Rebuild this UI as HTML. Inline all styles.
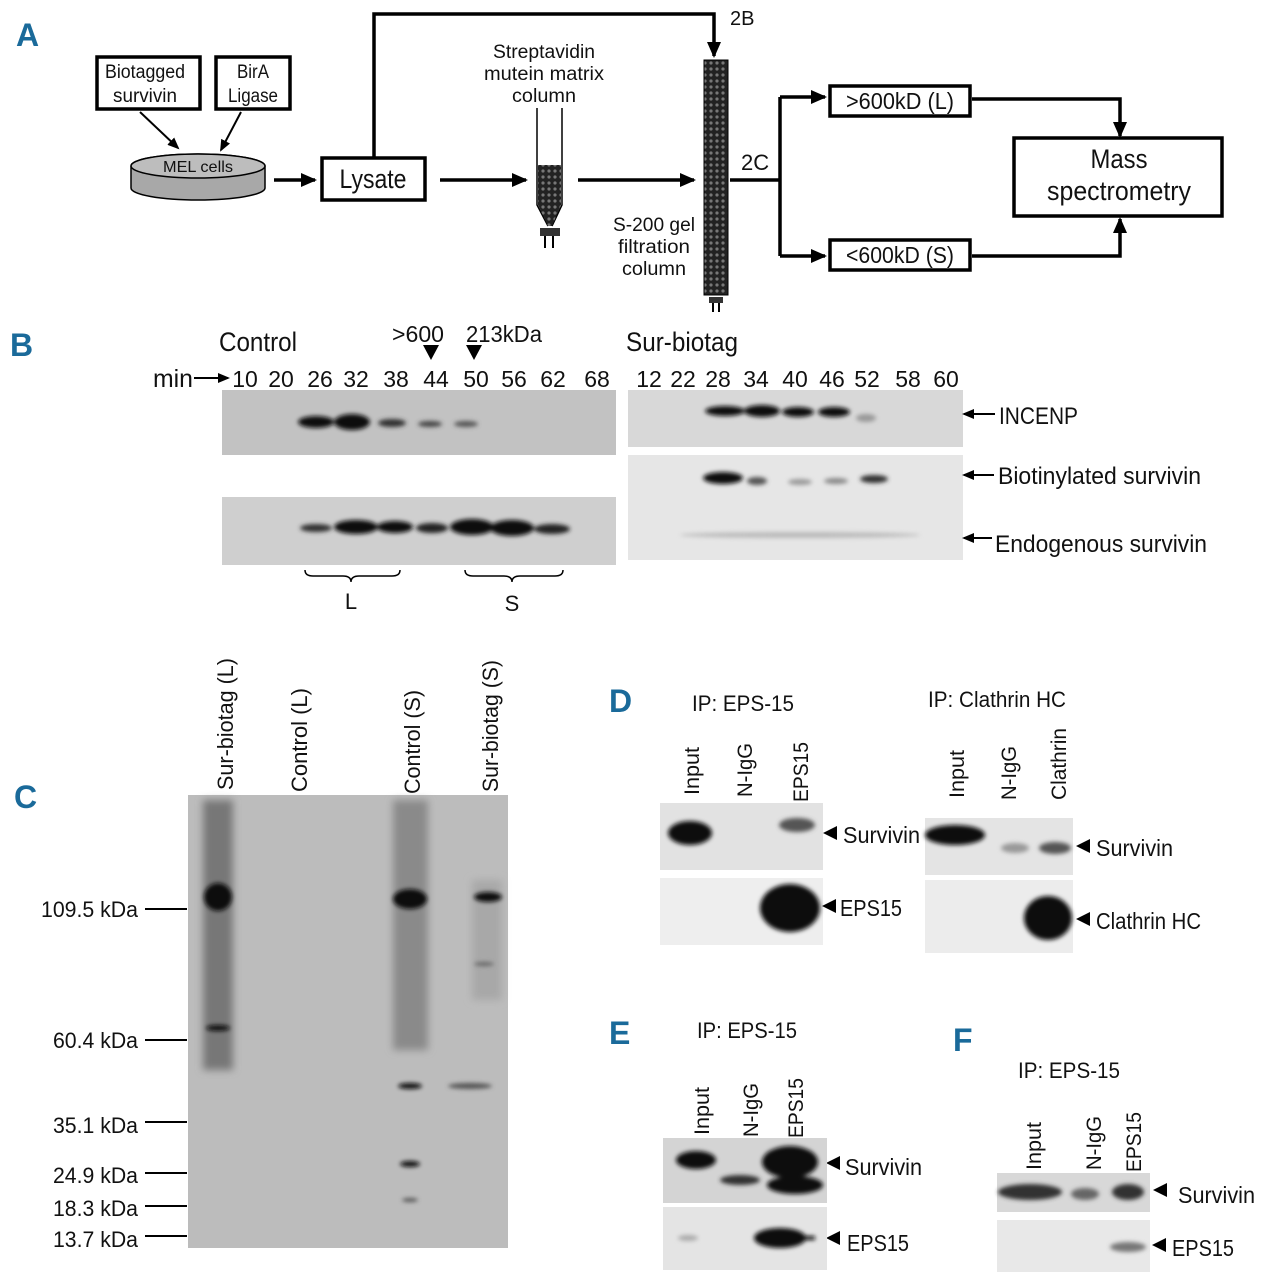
<!DOCTYPE html>
<html><head><meta charset="utf-8"><style>
html,body{margin:0;padding:0;background:#fff}
svg text{font-family:"Liberation Sans Narrow","Liberation Sans",sans-serif;fill:#111}
.P{font-family:"Liberation Sans",sans-serif;font-weight:bold;fill:#1a6a9a;font-size:32px}
</style></head><body>
<svg width="1262" height="1280" viewBox="0 0 1262 1280" xmlns="http://www.w3.org/2000/svg">
<defs>
<marker id="ah" markerWidth="16" markerHeight="14" refX="14" refY="7" orient="auto" markerUnits="userSpaceOnUse"><path d="M0,0 L16,7 L0,14 Z" fill="#000"/></marker>
<marker id="as" markerWidth="12" markerHeight="10" refX="10" refY="5" orient="auto" markerUnits="userSpaceOnUse"><path d="M0,0 L12,5 L0,10 Z" fill="#000"/></marker>
<filter id="b2"><feGaussianBlur stdDeviation="2"/></filter>
<filter id="b4"><feGaussianBlur stdDeviation="4"/></filter>
<pattern id="beads" width="6" height="6" patternUnits="userSpaceOnUse"><rect width="6" height="6" fill="#222"/><circle cx="3" cy="3" r="1.6" fill="#777"/></pattern>
</defs>

<!-- Panel A -->
<text class="P" x="16" y="46">A</text>
<g fill="none" stroke="#000" stroke-width="3.5">
<rect x="97" y="57" width="103" height="52"/>
<rect x="216" y="57" width="74" height="52"/>
<rect x="322" y="158" width="103" height="42"/>
<rect x="830" y="86" width="140" height="30"/>
<rect x="830" y="240" width="140" height="30"/>
<rect x="1014" y="138" width="208" height="78"/>
</g>
<g font-size="19" text-anchor="middle" lengthAdjust="spacingAndGlyphs">
<text x="145" y="78" textLength="80" lengthAdjust="spacingAndGlyphs">Biotagged</text><text x="145" y="102" textLength="64" lengthAdjust="spacingAndGlyphs">survivin</text>
<text x="253" y="78" textLength="32" lengthAdjust="spacingAndGlyphs">BirA</text><text x="253" y="102" textLength="50" lengthAdjust="spacingAndGlyphs">Ligase</text>
<text x="544" y="58" textLength="102" lengthAdjust="spacingAndGlyphs">Streptavidin</text><text x="544" y="80" textLength="120" lengthAdjust="spacingAndGlyphs">mutein matrix</text><text x="544" y="102" textLength="64" lengthAdjust="spacingAndGlyphs">column</text>
<text x="654" y="231" textLength="82" lengthAdjust="spacingAndGlyphs">S-200 gel</text><text x="654" y="253" textLength="72" lengthAdjust="spacingAndGlyphs">filtration</text><text x="654" y="275" textLength="64" lengthAdjust="spacingAndGlyphs">column</text>
</g>
<text x="373" y="188" font-size="27" text-anchor="middle" textLength="67" lengthAdjust="spacingAndGlyphs">Lysate</text>
<text x="900" y="109" font-size="23" text-anchor="middle" textLength="108" lengthAdjust="spacingAndGlyphs">&gt;600kD (L)</text>
<text x="900" y="263" font-size="23" text-anchor="middle" textLength="108" lengthAdjust="spacingAndGlyphs">&lt;600kD (S)</text>
<text x="1119" y="168" font-size="27" text-anchor="middle" textLength="57" lengthAdjust="spacingAndGlyphs">Mass</text>
<text x="1119" y="200" font-size="27" text-anchor="middle" textLength="144" lengthAdjust="spacingAndGlyphs">spectrometry</text>
<text x="730" y="25" font-size="20">2B</text>
<text x="741" y="170" font-size="22">2C</text>
<g stroke="#000" stroke-width="1.5">
<path d="M131,178 L131,166 A67,12 0 0 1 265,166 L265,188 A67,12 0 0 1 131,188 Z" fill="#a8a8a8"/>
<ellipse cx="198" cy="166" rx="67" ry="12" fill="#bdbdbd"/>
</g>
<text x="198" y="172" font-size="16" text-anchor="middle" textLength="70" lengthAdjust="spacingAndGlyphs">MEL cells</text>
<g fill="none" stroke="#000" stroke-width="3.5">
<line x1="140" y1="112" x2="178" y2="148" stroke-width="2" marker-end="url(#as)"/>
<line x1="241" y1="112" x2="221" y2="150" stroke-width="2" marker-end="url(#as)"/>
<line x1="274" y1="180" x2="315" y2="180" marker-end="url(#ah)"/>
<path d="M374,158 V14 H714 V56" marker-end="url(#ah)"/>
<line x1="440" y1="180" x2="526" y2="180" marker-end="url(#ah)"/>
<line x1="578" y1="180" x2="694" y2="180" marker-end="url(#ah)"/>
<line x1="780" y1="97" x2="825" y2="97" marker-end="url(#ah)"/>
<line x1="780" y1="256" x2="825" y2="256" marker-end="url(#ah)"/>
<path d="M972,99 H1120 V136" marker-end="url(#ah)"/>
<path d="M972,256 H1120 V219" marker-end="url(#ah)"/>
</g>
<path d="M730,180 H780 M780,97 V256" stroke="#000" stroke-width="3.5" fill="none"/>
<!-- small column -->
<path d="M537,108 V205 L548,226 M562,108 V205 L552,226" stroke="#000" stroke-width="1.5" fill="none"/>
<path d="M538,165 H561 V205 L552,226 H548 L538,205 Z" fill="url(#beads)"/>
<rect x="540" y="228" width="20" height="8" fill="#333"/><line x1="545" y1="236" x2="545" y2="248" stroke="#000" stroke-width="2"/><line x1="553" y1="236" x2="553" y2="248" stroke="#000" stroke-width="2"/>
<!-- big column -->
<rect x="704" y="60" width="24" height="235" fill="url(#beads)" stroke="#000"/>
<rect x="709" y="297" width="14" height="6" fill="#333"/><line x1="713" y1="303" x2="713" y2="312" stroke="#000" stroke-width="2"/><line x1="719" y1="303" x2="719" y2="312" stroke="#000" stroke-width="2"/>

<!-- Panel B -->
<text class="P" x="10" y="356">B</text>
<text x="219" y="351" font-size="27" textLength="78" lengthAdjust="spacingAndGlyphs">Control</text>
<text x="392" y="342" font-size="23" textLength="52" lengthAdjust="spacingAndGlyphs">&gt;600</text>
<text x="466" y="342" font-size="23" textLength="76" lengthAdjust="spacingAndGlyphs">213kDa</text>
<path d="M423,345 h16 l-8,15z M466,345 h16 l-8,15z" fill="#000"/>
<text x="626" y="351" font-size="27" textLength="112" lengthAdjust="spacingAndGlyphs">Sur-biotag</text>
<text x="153" y="387" font-size="25" textLength="40" lengthAdjust="spacingAndGlyphs">min</text>
<line x1="194" y1="378" x2="228" y2="378" stroke="#000" stroke-width="2" marker-end="url(#as)"/>
<g font-size="23" text-anchor="middle">
<text x="245" y="387">10</text><text x="281" y="387">20</text><text x="320" y="387">26</text><text x="356" y="387">32</text><text x="396" y="387">38</text><text x="436" y="387">44</text><text x="476" y="387">50</text><text x="514" y="387">56</text><text x="553" y="387">62</text><text x="597" y="387">68</text>
<text x="649" y="387">12</text><text x="683" y="387">22</text><text x="718" y="387">28</text><text x="756" y="387">34</text><text x="795" y="387">40</text><text x="832" y="387">46</text><text x="867" y="387">52</text><text x="908" y="387">58</text><text x="946" y="387">60</text>
</g>
<rect x="222" y="390" width="394" height="65" fill="#c2c2c2"/>
<rect x="222" y="497" width="394" height="68" fill="#cfcfcf"/>
<rect x="628" y="390" width="335" height="57" fill="#d8d8d8"/>
<rect x="628" y="455" width="335" height="105" fill="#e6e6e6"/>
<g fill="#111" filter="url(#b2)">
<ellipse cx="316" cy="422" rx="18" ry="6"/><ellipse cx="352" cy="422" rx="18" ry="8"/><ellipse cx="392" cy="423" rx="14" ry="4" fill="#333"/><ellipse cx="430" cy="424" rx="12" ry="3" fill="#444"/><ellipse cx="466" cy="424" rx="12" ry="3" fill="#555"/>
<ellipse cx="316" cy="528" rx="16" ry="4" fill="#333"/><ellipse cx="356" cy="527" rx="22" ry="7"/><ellipse cx="395" cy="527" rx="18" ry="6"/><ellipse cx="432" cy="528" rx="16" ry="5" fill="#222"/><ellipse cx="472" cy="527" rx="22" ry="8"/><ellipse cx="512" cy="528" rx="22" ry="8"/><ellipse cx="552" cy="529" rx="18" ry="5" fill="#222"/>
<ellipse cx="725" cy="411" rx="20" ry="5"/><ellipse cx="762" cy="411" rx="18" ry="6"/><ellipse cx="798" cy="412" rx="16" ry="5"/><ellipse cx="834" cy="412" rx="16" ry="5"/><ellipse cx="866" cy="418" rx="10" ry="4" fill="#999"/>
<ellipse cx="723" cy="478" rx="20" ry="6"/><ellipse cx="757" cy="481" rx="10" ry="4" fill="#555"/><ellipse cx="800" cy="482" rx="12" ry="3" fill="#999"/><ellipse cx="836" cy="481" rx="12" ry="3" fill="#888"/><ellipse cx="874" cy="479" rx="14" ry="4" fill="#333"/>
<ellipse cx="800" cy="535" rx="120" ry="3" fill="#bbb"/>
</g>
<g font-size="24">
<text x="999" y="424" textLength="79" lengthAdjust="spacingAndGlyphs">INCENP</text><text x="998" y="484" textLength="203" lengthAdjust="spacingAndGlyphs">Biotinylated survivin</text><text x="995" y="552" textLength="212" lengthAdjust="spacingAndGlyphs">Endogenous survivin</text>
</g>
<g stroke="#000" stroke-width="2">
<line x1="995" y1="414" x2="964" y2="414" marker-end="url(#as)"/><line x1="994" y1="475" x2="964" y2="475" marker-end="url(#as)"/><line x1="992" y1="538" x2="964" y2="538" marker-end="url(#as)"/>
</g>
<path d="M305,570 q0,6 8,6 h30 q8,0 8,6 q0,-6 8,-6 h33 q8,0 8,-6 M465,570 q0,6 8,6 h31 q8,0 8,6 q0,-6 8,-6 h35 q8,0 8,-6" fill="none" stroke="#000" stroke-width="1.5"/>
<text x="351" y="609" font-size="22" text-anchor="middle">L</text>
<text x="512" y="611" font-size="22" text-anchor="middle">S</text>

<!-- Panel C -->
<text class="P" x="14" y="808">C</text>
<g font-size="22">
<text transform="translate(233,790) rotate(-90)" textLength="132" lengthAdjust="spacingAndGlyphs">Sur-biotag (L)</text>
<text transform="translate(307,792) rotate(-90)" textLength="104" lengthAdjust="spacingAndGlyphs">Control (L)</text>
<text transform="translate(420,794) rotate(-90)" textLength="104" lengthAdjust="spacingAndGlyphs">Control (S)</text>
<text transform="translate(498,792) rotate(-90)" textLength="132" lengthAdjust="spacingAndGlyphs">Sur-biotag (S)</text>
</g>
<rect x="188" y="795" width="320" height="453" fill="#bcbcbc"/>
<g filter="url(#b4)">
<rect x="203" y="800" width="30" height="270" fill="#777"/>
<rect x="393" y="800" width="35" height="250" fill="#8a8a8a"/>
<rect x="472" y="880" width="30" height="120" fill="#a8a8a8"/>
</g>
<g fill="#111" filter="url(#b2)">
<ellipse cx="218" cy="897" rx="14" ry="14"/><ellipse cx="218" cy="1028" rx="12" ry="3"/>
<ellipse cx="410" cy="899" rx="17" ry="10"/><ellipse cx="410" cy="1086" rx="12" ry="3"/><ellipse cx="410" cy="1164" rx="10" ry="3"/><ellipse cx="410" cy="1200" rx="8" ry="2" fill="#555"/>
<ellipse cx="488" cy="897" rx="14" ry="5"/><ellipse cx="484" cy="964" rx="10" ry="2" fill="#666"/><ellipse cx="470" cy="1086" rx="22" ry="3" fill="#555"/>
</g>
<g font-size="22" text-anchor="end">
<text x="138" y="917" textLength="97" lengthAdjust="spacingAndGlyphs">109.5 kDa</text><text x="138" y="1048" textLength="85" lengthAdjust="spacingAndGlyphs">60.4 kDa</text><text x="138" y="1133" textLength="85" lengthAdjust="spacingAndGlyphs">35.1 kDa</text><text x="138" y="1183" textLength="85" lengthAdjust="spacingAndGlyphs">24.9 kDa</text><text x="138" y="1216" textLength="85" lengthAdjust="spacingAndGlyphs">18.3 kDa</text><text x="138" y="1247" textLength="85" lengthAdjust="spacingAndGlyphs">13.7 kDa</text>
</g>
<g stroke="#000" stroke-width="2">
<line x1="145" y1="909" x2="187" y2="909"/><line x1="145" y1="1040" x2="187" y2="1040"/><line x1="145" y1="1122" x2="187" y2="1122"/><line x1="145" y1="1173" x2="187" y2="1173"/><line x1="145" y1="1206" x2="187" y2="1206"/><line x1="145" y1="1236" x2="187" y2="1236"/>
</g>

<!-- Panel D -->
<text class="P" x="609" y="712">D</text>
<text x="692" y="711" font-size="22" textLength="102" lengthAdjust="spacingAndGlyphs">IP: EPS-15</text>
<text x="928" y="707" font-size="22" textLength="138" lengthAdjust="spacingAndGlyphs">IP: Clathrin HC</text>
<g font-size="21">
<text transform="translate(699,795) rotate(-90)" textLength="48" lengthAdjust="spacingAndGlyphs">Input</text>
<text transform="translate(752,797) rotate(-90)" textLength="54" lengthAdjust="spacingAndGlyphs">N-IgG</text>
<text transform="translate(808,802) rotate(-90)" textLength="60" lengthAdjust="spacingAndGlyphs">EPS15</text>
<text transform="translate(964,798) rotate(-90)" textLength="48" lengthAdjust="spacingAndGlyphs">Input</text>
<text transform="translate(1016,800) rotate(-90)" textLength="54" lengthAdjust="spacingAndGlyphs">N-IgG</text>
<text transform="translate(1066,800) rotate(-90)" textLength="72" lengthAdjust="spacingAndGlyphs">Clathrin</text>
</g>
<rect x="660" y="803" width="163" height="67" fill="#e2e2e2"/>
<rect x="660" y="878" width="163" height="67" fill="#eeeeee"/>
<rect x="925" y="818" width="148" height="57" fill="#e4e4e4"/>
<rect x="925" y="880" width="148" height="73" fill="#ececec"/>
<g fill="#111" filter="url(#b2)">
<ellipse cx="690" cy="833" rx="22" ry="12"/><ellipse cx="797" cy="825" rx="18" ry="7" fill="#555"/>
<ellipse cx="790" cy="908" rx="30" ry="24"/>
<ellipse cx="955" cy="835" rx="30" ry="10"/><ellipse cx="1015" cy="848" rx="14" ry="5" fill="#999"/><ellipse cx="1055" cy="848" rx="16" ry="6" fill="#555"/>
<ellipse cx="1048" cy="918" rx="24" ry="22"/>
</g>
<g font-size="23">
<text x="843" y="843" textLength="77" lengthAdjust="spacingAndGlyphs">Survivin</text><text x="840" y="916" textLength="62" lengthAdjust="spacingAndGlyphs">EPS15</text><text x="1096" y="856" textLength="77" lengthAdjust="spacingAndGlyphs">Survivin</text><text x="1096" y="929" textLength="105" lengthAdjust="spacingAndGlyphs">Clathrin HC</text>
<text x="845" y="1175" textLength="77" lengthAdjust="spacingAndGlyphs">Survivin</text><text x="847" y="1251" textLength="62" lengthAdjust="spacingAndGlyphs">EPS15</text>
<text x="1178" y="1203" textLength="77" lengthAdjust="spacingAndGlyphs">Survivin</text><text x="1172" y="1256" textLength="62" lengthAdjust="spacingAndGlyphs">EPS15</text>
</g>
<path d="M823,833 l14,-7 v14z M822,906 l14,-7 v14z M1076,846 l14,-7 v14z M1076,919 l14,-7 v14z M826,1163 l14,-7 v14z M826,1238 l14,-7 v14z M1153,1190 l14,-7 v14z M1152,1245 l14,-7 v14z" fill="#000"/>

<!-- Panel E -->
<text class="P" x="609" y="1044">E</text>
<text x="697" y="1038" font-size="22" textLength="100" lengthAdjust="spacingAndGlyphs">IP: EPS-15</text>
<g font-size="21">
<text transform="translate(709,1135) rotate(-90)" textLength="48" lengthAdjust="spacingAndGlyphs">Input</text>
<text transform="translate(758,1137) rotate(-90)" textLength="54" lengthAdjust="spacingAndGlyphs">N-IgG</text>
<text transform="translate(803,1138) rotate(-90)" textLength="60" lengthAdjust="spacingAndGlyphs">EPS15</text>
</g>
<rect x="663" y="1138" width="164" height="65" fill="#d4d4d4"/>
<rect x="663" y="1207" width="164" height="63" fill="#e4e4e4"/>
<g fill="#111" filter="url(#b2)">
<ellipse cx="696" cy="1160" rx="20" ry="9"/><ellipse cx="740" cy="1180" rx="20" ry="5" fill="#333"/><ellipse cx="790" cy="1162" rx="28" ry="16"/><ellipse cx="795" cy="1185" rx="28" ry="9"/>
<ellipse cx="780" cy="1238" rx="26" ry="10"/><rect x="790" y="1236" width="25" height="4"/><ellipse cx="688" cy="1238" rx="10" ry="3" fill="#aaa"/>
</g>

<!-- Panel F -->
<text class="P" x="953" y="1051">F</text>
<text x="1018" y="1078" font-size="22" textLength="102" lengthAdjust="spacingAndGlyphs">IP: EPS-15</text>
<g font-size="21">
<text transform="translate(1041,1170) rotate(-90)" textLength="48" lengthAdjust="spacingAndGlyphs">Input</text>
<text transform="translate(1101,1170) rotate(-90)" textLength="54" lengthAdjust="spacingAndGlyphs">N-IgG</text>
<text transform="translate(1141,1172) rotate(-90)" textLength="60" lengthAdjust="spacingAndGlyphs">EPS15</text>
</g>
<rect x="997" y="1173" width="153" height="39" fill="#d8d8d8"/>
<rect x="997" y="1220" width="153" height="52" fill="#e8e8e8"/>
<g fill="#111" filter="url(#b2)">
<ellipse cx="1030" cy="1192" rx="32" ry="8" fill="#333"/><ellipse cx="1085" cy="1194" rx="14" ry="6" fill="#666"/><ellipse cx="1128" cy="1192" rx="16" ry="8" fill="#333"/>
<ellipse cx="1128" cy="1247" rx="18" ry="5" fill="#777"/>
</g>
</svg>
</body></html>
